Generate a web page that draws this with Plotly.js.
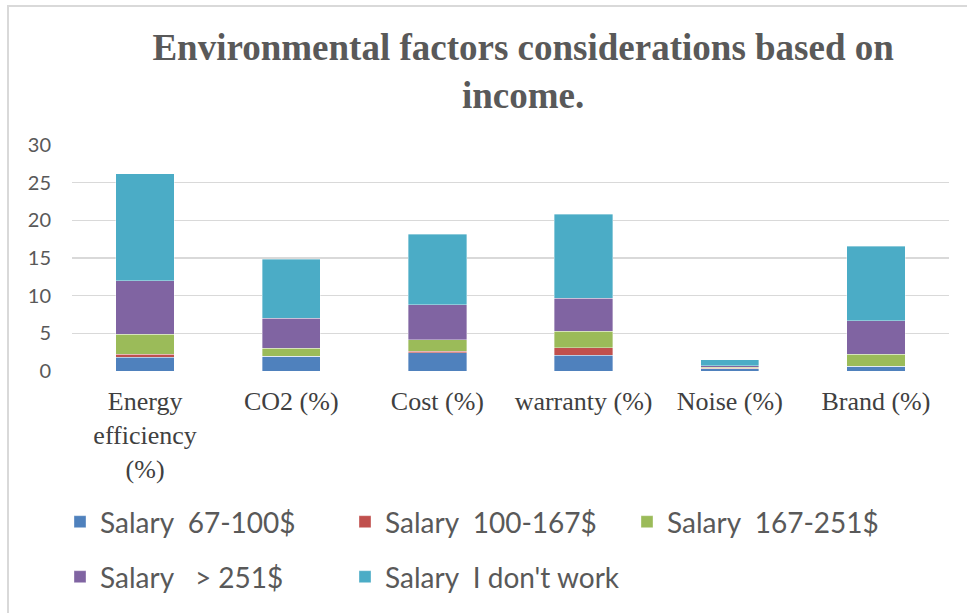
<!DOCTYPE html>
<html>
<head>
<meta charset="utf-8">
<script src="https://cdn.plot.ly/plotly-3.0.1.min.js"></script>
<style>
  html, body { margin: 0; padding: 0; background: #ffffff; overflow: hidden; }
  #chart { position: absolute; left: 0; top: 0; width: 967px; height: 613px; }
  #frame { position: absolute; left: 7px; top: 5px; width: 1100px; height: 800px;
           border: 2px solid #d9d9d9; pointer-events: none; }
</style>
</head>
<body>
<div id="chart"></div>
<div id="frame"></div>
<script>
const categories = ["Energy<br>efficiency<br>(%)", "CO2 (%)", "Cost (%)", "warranty (%)", "Noise (%)", "Brand (%)"];
const seriesNames = ["Salary  67-100$", "Salary  100-167$", "Salary  167-251$", "Salary   > 251$", "Salary  I don't work"];
const salary67to100   = [1.8, 1.95, 2.4, 2.1, 0.3, 0.65];
const salary100to167  = [0.4, 0.0, 0.25, 1.0, 0.05, 0.0];
const salary167to251  = [2.7, 1.1, 1.5, 2.15, 0.15, 1.55];
const salaryOver251   = [7.1, 3.95, 4.65, 4.4, 0.2, 4.45];
const salaryNoWork    = [14.2, 7.85, 9.35, 11.15, 0.8, 9.9];
const yTicks = [0, 5, 10, 15, 20, 25, 30];

const seriesValues = [salary67to100, salary100to167, salary167to251, salaryOver251, salaryNoWork];
const colors = ["#4f81bd", "#c0504d", "#9bbb59", "#8064a2", "#4bacc6"];
const legendIds = ["legend", "legend", "legend3", "legend2", "legend2"];

const traces = seriesValues.map((vals, i) => ({
  type: "bar",
  name: seriesNames[i],
  x: categories,
  y: vals,
  marker: { color: colors[i], line: { color: "rgba(255,255,255,0.6)", width: 0.6 } },
  legend: legendIds[i]
}));

const legendFont = { family: "Lato, 'Noto Sans', sans-serif", size: 28, color: "#595959" };
function legendAt(xPx, yPx) {
  return {
    orientation: "h",
    xref: "container", x: xPx / 967, xanchor: "left",
    yref: "container", y: 1 - yPx / 613, yanchor: "middle",
    entrywidth: 240, entrywidthmode: "pixels",
    font: legendFont,
    traceorder: "normal",
    bgcolor: "rgba(0,0,0,0)"
  };
}

const layout = {
  width: 967,
  height: 613,
  paper_bgcolor: "rgba(0,0,0,0)",
  plot_bgcolor: "rgba(0,0,0,0)",
  margin: { l: 72, r: 18, t: 145, b: 242 },
  barmode: "stack",
  bargap: 0.6,
  title: {
    text: "<b>Environmental factors considerations based on<br>income.</b>",
    font: { family: "'Liberation Serif', 'Times New Roman', serif", size: 37, color: "#595959" },
    xref: "container", x: 0.541, xanchor: "center",
    yref: "container", y: 0.902, yanchor: "top"
  },
  xaxis: {
    type: "category",
    showgrid: false,
    zeroline: false,
    showline: false,
    ticks: "",
    tickfont: { family: "'Liberation Serif', 'Times New Roman', serif", size: 26, color: "#404040" },
    ticklabelstandoff: 12
  },
  yaxis: {
    range: [0, 30],
    tickvals: yTicks,
    ticktext: yTicks.map(String),
    showgrid: true,
    gridcolor: "#d9d9d9",
    gridwidth: 1.4,
    zeroline: false,
    showline: false,
    ticks: "",
    tickfont: { family: "Lato, 'Noto Sans', sans-serif", size: 20, color: "#595959" },
    ticklabelstandoff: 20
  },
  showlegend: true,
  legend: legendAt(60, 522),
  legend3: legendAt(627, 522),
  legend2: legendAt(60, 577)
};

Plotly.newPlot("chart", traces, layout, { staticPlot: true, displayModeBar: false });
</script>
</body>
</html>
